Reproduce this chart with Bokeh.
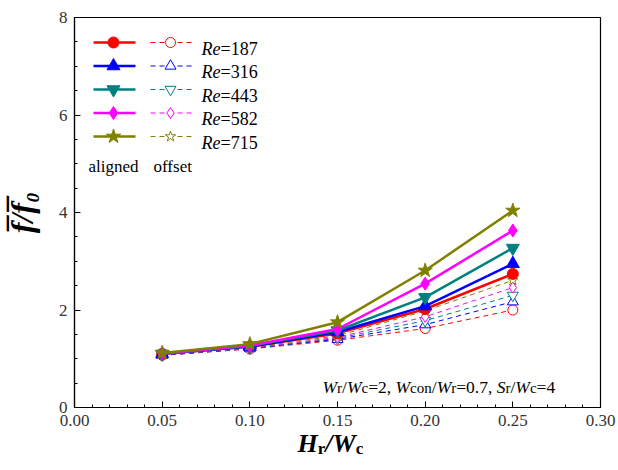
from bokeh.plotting import figure
from bokeh.models import Label, FixedTicker, NumeralTickFormatter, LinearAxis
from bokeh.embed import file_html
from bokeh.resources import INLINE

# ---------------- data ----------------
hr_wc = [0.05, 0.10, 0.15, 0.20, 0.25]
re_values = ["187", "316", "443", "582", "715"]
aligned_187 = [1.10, 1.25, 1.52, 2.02, 2.74]
aligned_316 = [1.10, 1.25, 1.55, 2.08, 2.95]
aligned_443 = [1.10, 1.26, 1.58, 2.26, 3.27]
aligned_582 = [1.11, 1.27, 1.61, 2.54, 3.63]
aligned_715 = [1.12, 1.30, 1.75, 2.81, 4.04]
offset_187 = [1.07, 1.20, 1.38, 1.62, 2.00]
offset_316 = [1.07, 1.21, 1.40, 1.70, 2.17]
offset_443 = [1.08, 1.21, 1.42, 1.78, 2.30]
offset_582 = [1.08, 1.22, 1.44, 1.86, 2.46]
offset_715 = [1.09, 1.23, 1.47, 1.98, 2.61]
x_ticks = [0.00, 0.05, 0.10, 0.15, 0.20, 0.25, 0.30]
x_minor = [round(0.01 * k, 2) for k in range(31)]
y_ticks = [0, 2, 4, 6, 8]
y_minor = [0.5 * k for k in range(17)]

aligned = [aligned_187, aligned_316, aligned_443, aligned_582, aligned_715]
offset = [offset_187, offset_316, offset_443, offset_582, offset_715]
colors = ["#ff0000", "#0000ff", "#008080", "#ff00ff", "#808000"]
markers = ["circle", "triangle", "inverted_triangle", "diamond", "star"]
msize = [11, 13, 13, 13, 15]
osize = [10, 11, 11, 11, 11]

FONT = "Liberation Serif"
X0, X1, Y0, Y1 = 0.0, 0.30, 0.0, 8.0
L, R, T, B = 74, 18, 17, 63
W, H = 618, 470
FW, FH = W - L - R, H - T - B


def dx(px):  # canvas x -> data
    return X0 + (px - L) / FW * (X1 - X0)


def dy(py):  # canvas y (from top) -> data
    return Y0 + (T + FH - py) / FH * (Y1 - Y0)


p = figure(width=W, height=H, x_range=(X0, X1), y_range=(Y0, Y1),
           output_backend="svg", toolbar_location=None,
           min_border_left=L, min_border_right=R, min_border_top=T, min_border_bottom=B)
p.grid.visible = False
p.outline_line_color = "black"
p.outline_line_width = 1.2
p.background_fill_color = "white"
p.border_fill_color = "white"

for ax in (p.xaxis[0], p.yaxis[0]):
    ax.axis_line_color = "black"
    ax.axis_line_width = 1.2
    ax.major_tick_in = 6
    ax.major_tick_out = 0
    ax.minor_tick_in = 3
    ax.minor_tick_out = 0
    ax.major_tick_line_color = "black"
    ax.minor_tick_line_color = "black"
    ax.major_label_text_font = FONT
    ax.major_label_text_font_size = "17px"
    ax.major_label_text_color = "#333333"

p.xaxis.ticker = FixedTicker(ticks=x_ticks, minor_ticks=x_minor)
p.xaxis.formatter = NumeralTickFormatter(format="0.00")
p.xaxis.major_label_standoff = 7
p.yaxis.ticker = FixedTicker(ticks=y_ticks, minor_ticks=y_minor)
p.yaxis.major_label_standoff = 7
p.yaxis.axis_label = "f\u0305/f\u0305\u2080"
p.yaxis.axis_label_text_font = FONT
p.yaxis.axis_label_text_font_size = "32px"
p.yaxis.axis_label_text_font_style = "bold italic"
p.yaxis.axis_label_text_color = "black"
p.yaxis.axis_label_standoff = 16

# ---------------- series ----------------
for i in range(5):
    p.line(hr_wc, offset[i], line_color=colors[i], line_width=1, line_dash="5 4")
    p.scatter(hr_wc, offset[i], marker=markers[i], size=osize[i],
              fill_color="white", line_color=colors[i], line_width=1)
for i in range(5):
    p.line(hr_wc, aligned[i], line_color=colors[i], line_width=2.5)
    p.scatter(hr_wc, aligned[i], marker=markers[i], size=msize[i],
              fill_color=colors[i], line_color=colors[i])

# ---------------- legend (drawn) ----------------
row_px = [42, 65.5, 89, 112.5, 136]
for i in range(5):
    yy = dy(row_px[i])
    p.line([dx(93), dx(135)], [yy, yy], line_color=colors[i], line_width=2.5)
    p.scatter([dx(113)], [yy], marker=markers[i], size=msize[i],
              fill_color=colors[i], line_color=colors[i])
    p.line([dx(150), dx(191)], [yy, yy], line_color=colors[i], line_width=1, line_dash="5 4")
    p.scatter([dx(170)], [yy], marker=markers[i], size=osize[i],
              fill_color="white", line_color=colors[i], line_width=1)

# ---------------- text runs ----------------
REG = {'0': 500, '1': 500, '2': 500, '3': 500, '4': 500, '5': 500, '6': 500, '7': 500,
       '8': 500, '9': 500, '.': 250, ',': 250, ' ': 250, '=': 564, '/': 278, 'c': 444,
       'o': 500, 'n': 500, 'r': 333, 'a': 444, 'l': 278, 'i': 278, 'g': 500, 'e': 444,
       'd': 500, 'f': 333, 's': 389, 't': 278}
ITA = {'W': 833, 'S': 500, 'R': 611, 'e': 444, '/': 278}
BI = {'H': 778, 'W': 889, '/': 278}
BO = {'r': 444, 'c': 444}
TABLES = {"normal": REG, "italic": ITA, "bold italic": BI, "bold": BO}


def twidth(text, size, style):
    tab = TABLES[style]
    return sum(tab.get(ch, REG.get(ch, 500)) for ch in text) * size / 1000.0


def runs(x_px, y_px, pieces):
    off = 0.0
    for text, size, style, shift in pieces:
        p.add_layout(Label(x=dx(x_px), y=dy(y_px + shift), x_offset=off, text=text,
                           text_font=FONT, text_font_size=f"{size}px",
                           text_font_style=style, text_color="black",
                           text_baseline="alphabetic", text_align="left"))
        off += twidth(text, size, style)


for i in range(5):
    runs(201, row_px[i] + 6, [("Re", 18, "italic", 0), ("=" + re_values[i], 18, "normal", 0)])

runs(88, 166, [("aligned", 17, "normal", 0)])
runs(153, 166, [("offset", 17, "normal", 0)])

S1, S2 = 17.5, 15
runs(322, 386, [("W", S1, "italic", 0), ("r", S2, "normal", 1), ("/", S1, "normal", 0),
                ("W", S1, "italic", 0), ("c", S2, "normal", 1), ("=2, ", S1, "normal", 0),
                ("W", S1, "italic", 0), ("con", S2, "normal", 1), ("/", S1, "normal", 0),
                ("W", S1, "italic", 0), ("r", S2, "normal", 1), ("=0.7, ", S1, "normal", 0),
                ("S", S1, "italic", 0), ("r", S2, "normal", 1), ("/", S1, "normal", 0),
                ("W", S1, "italic", 0), ("c", S2, "normal", 1), ("=4", S1, "normal", 0)])

# ---------------- x-axis title built from label-only axes ----------------
xt_pieces = [("H", 26, "bold italic"), ("r", 17, "bold"), ("/W", 26, "bold italic"), ("c", 17, "bold")]
cx = 297.0
centers = {"bold italic": {}, "bold": {}}
for text, size, style in xt_pieces:
    wdt = twidth(text, size, style)
    centers[style][round(dx(cx + wdt / 2), 5)] = text
    cx += wdt

for style, size, standoff in (("bold italic", 26, 0), ("bold", 17, -22)):
    ticks = sorted(centers[style].keys())
    ax = LinearAxis(ticker=FixedTicker(ticks=ticks, minor_ticks=[]),
                    major_label_overrides={t: centers[style][t] for t in ticks},
                    axis_line_color=None, major_tick_line_color=None,
                    minor_tick_line_color=None, major_tick_in=0, major_tick_out=0,
                    minor_tick_in=0, minor_tick_out=0,
                    major_label_standoff=standoff,
                    major_label_text_font=FONT, major_label_text_font_size=f"{size}px",
                    major_label_text_font_style=style, major_label_text_color="black")
    p.add_layout(ax, "below")

open("out.html", "w").write(file_html(p, INLINE))
